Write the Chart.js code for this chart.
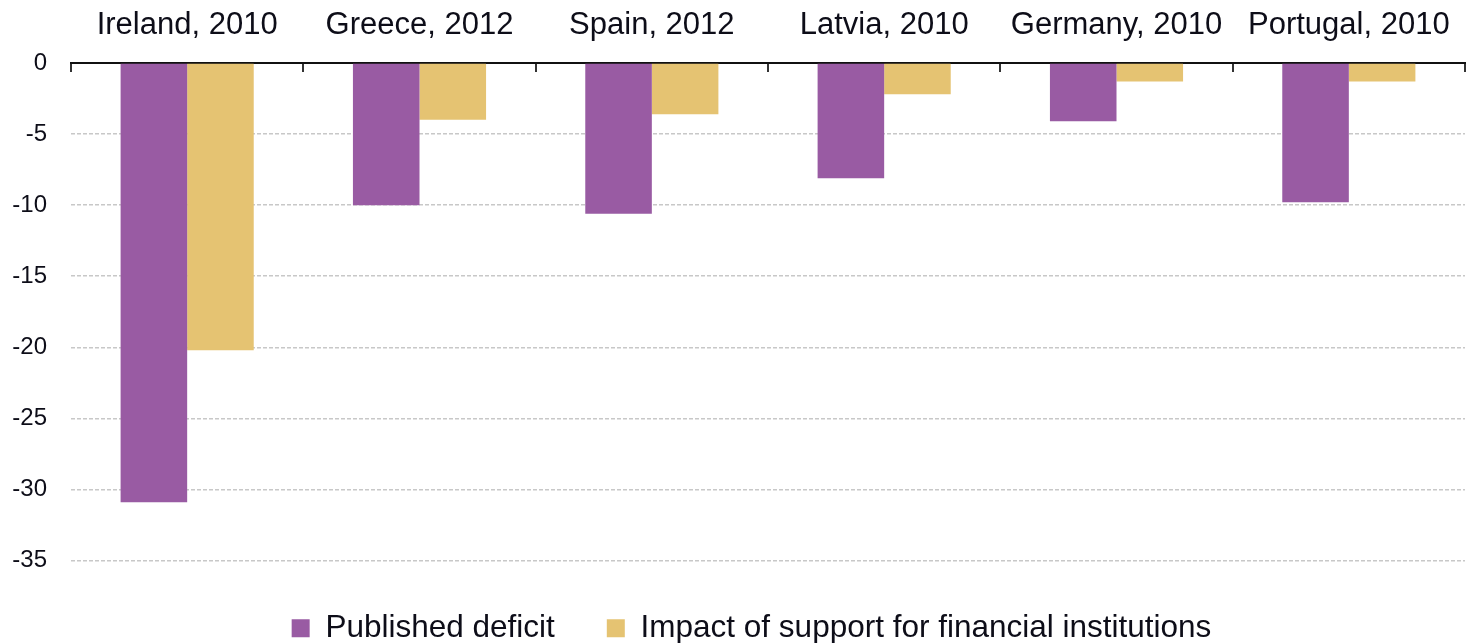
<!DOCTYPE html>
<html>
<head>
<meta charset="utf-8">
<script src="https://cdn.jsdelivr.net/npm/chart.js@4/dist/chart.umd.min.js"></script>
<style>
  html, body { margin: 0; padding: 0; background: #fff; overflow: hidden; }
  #wrap { width: 1467px; height: 643px; position: relative; }
  canvas { display: block; }
</style>
</head>
<body>
<div id="wrap"><canvas id="deficit"></canvas></div>
<script>
const countries = ["Ireland, 2010", "Greece, 2012", "Spain, 2012", "Latvia, 2010", "Germany, 2010", "Portugal, 2010"];
const publishedDeficit = [-30.9, -10.0, -10.6, -8.1, -4.1, -9.8];
const bankSupport = [-20.2, -4.0, -3.6, -2.2, -1.3, -1.3];
const yTicks = [0, -5, -10, -15, -20, -25, -30, -35];

const FONT = "'Liberation Sans', Arial, sans-serif";
const TEXT = "#0d0d18";

// nudge the legend row a little right of the canvas centre
const legendShift = {
  id: "legendShift",
  afterLayout(chart) {
    if (chart.legend) chart.legend.left += 38;
  },
};

(function () {
  const context = document.querySelector("#deficit").getContext("2d");
  new Chart(context, {
    type: "bar",
    data: {
      labels: countries,
      datasets: [
        {
          label: "Published deficit",
          data: publishedDeficit,
          backgroundColor: "#995ba3",
        },
        {
          label: "Impact of support for financial institutions",
          data: bankSupport,
          backgroundColor: "#e5c372",
        },
      ],
    },
    plugins: [legendShift],
    options: {
      responsive: true,
      maintainAspectRatio: false,
      animation: false,
      layout: { padding: { left: 0, right: 2, top: 0, bottom: -11 } },
      datasets: {
        bar: { barPercentage: 1, categoryPercentage: 0.573 },
      },
      scales: {
        x: {
          position: "top",
          offset: true,
          afterFit: (scale) => {
            scale.height = 63;
            scale.paddingLeft = 0;
            scale.paddingRight = 0;
          },
          border: { display: true, color: "#111", width: 2 },
          grid: {
            offset: true,
            drawOnChartArea: false,
            drawTicks: true,
            tickLength: -9,
            color: "#333",
            lineWidth: 2,
          },
          ticks: {
            color: TEXT,
            padding: 28,
            font: { family: FONT, size: 31 },
          },
        },
        y: {
          min: -35,
          max: 0,
          afterFit: (scale) => { scale.width = 71; },
          afterBuildTicks: (scale) => {
            scale.ticks = yTicks.map((v) => ({ value: v }));
          },
          border: { display: false, dash: [4, 2] },
          grid: {
            drawTicks: false,
            color: (ctx) => (ctx.tick && ctx.tick.value === 0 ? "rgba(0,0,0,0)" : "#c8c8c8"),
            lineWidth: 1.5,
          },
          ticks: {
            color: TEXT,
            padding: 24,
            font: { family: FONT, size: 24 },
          },
        },
      },
      plugins: {
        legend: {
          position: "bottom",
          labels: {
            color: TEXT,
            boxWidth: 18,
            boxHeight: 18,
            padding: 52,
            font: { family: FONT, size: 31.5 },
          },
        },
        tooltip: { enabled: false },
      },
    },
  });
})();
</script>
</body>
</html>
